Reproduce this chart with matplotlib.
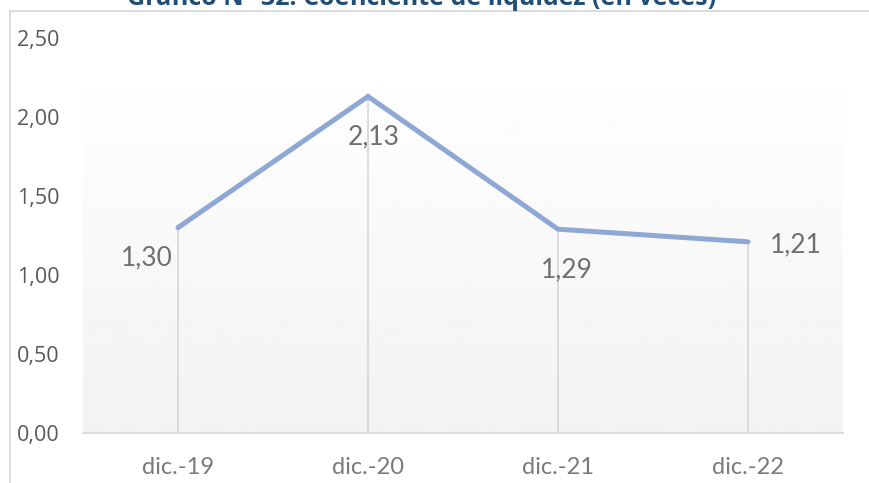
import matplotlib.pyplot as plt
import numpy as np
from matplotlib.lines import Line2D

plt.rcParams['font.family'] = ['Open Sans', 'DejaVu Sans']

categories = ['dic.-19', 'dic.-20', 'dic.-21', 'dic.-22']
liquidez = [1.30, 2.13, 1.29, 1.21]
y_ticks = [0.0, 0.5, 1.0, 1.5, 2.0, 2.5]
title = 'Gráfico N° 32: Coeficiente de liquidez (en veces)'

# label offsets (points) and alignment, one per point
label_pos = [((-4, -22), 'right'), ((4, -29), 'center'),
             ((6, -29), 'center'), ((16, -2), 'left')]

thin = ['Lato', 'Open Sans', 'DejaVu Sans']

fig = plt.figure(figsize=(8.7, 4.83), dpi=100)
ax = fig.add_axes([83 / 870, 1 - 433 / 483, 760 / 870, 395 / 483])

x = np.arange(len(categories))
ax.set_xlim(-0.5, len(categories) - 0.5)
ax.set_ylim(0, 2.5)

# soft gray gradient behind the plot
grad = np.linspace(0.949, 0.996, 256).reshape(-1, 1)
ax.imshow(grad, cmap='gray', vmin=0, vmax=1, aspect='auto', origin='lower',
          extent=(-0.5, len(categories) - 0.5, 0, 2.177), zorder=0)

# drop lines
ax.vlines(x, 0, liquidez, color='#D9D9D9', lw=1.3, zorder=1)
ax.plot(x, liquidez, color='#8FA7D4', lw=3.6, solid_capstyle='round',
        solid_joinstyle='miter', zorder=2)

for xi, v, (off, ha) in zip(x, liquidez, label_pos):
    ax.annotate(f'{v:.2f}'.replace('.', ','), (xi, v), xytext=off,
                textcoords='offset points', ha=ha, va='center',
                fontsize=19, family=thin, color='#707070')

ax.set_xticks(x)
ax.set_xticklabels(categories, fontsize=17, color='#7a7a7a', family=thin)
ax.set_yticks(y_ticks)
ax.set_yticklabels([f'{t:.2f}'.replace('.', ',') for t in y_ticks],
                   fontsize=15.5, color='#595959')
ax.tick_params(axis='both', length=0)
ax.tick_params(axis='x', pad=17)
ax.tick_params(axis='y', pad=17)

for s in ['top', 'right', 'left']:
    ax.spines[s].set_visible(False)
ax.spines['bottom'].set_color('#D9D9D9')
ax.spines['bottom'].set_linewidth(1.3)

# outer frame (top + left edges visible)
top_y = 1 - 11 / 483
fig.add_artist(Line2D([10 / 870, 1], [top_y, top_y], color='#D9D9D9', lw=1.3))
fig.add_artist(Line2D([10 / 870, 10 / 870], [0, top_y], color='#D9D9D9', lw=1.3))

# title sits mostly above the frame, as in the source
fig.text(422 / 870, 1 - 5 / 483, title, ha='center', va='baseline',
         fontsize=18, fontweight='bold', color='#1F4E79')

fig.savefig('out.png', dpi=100)
